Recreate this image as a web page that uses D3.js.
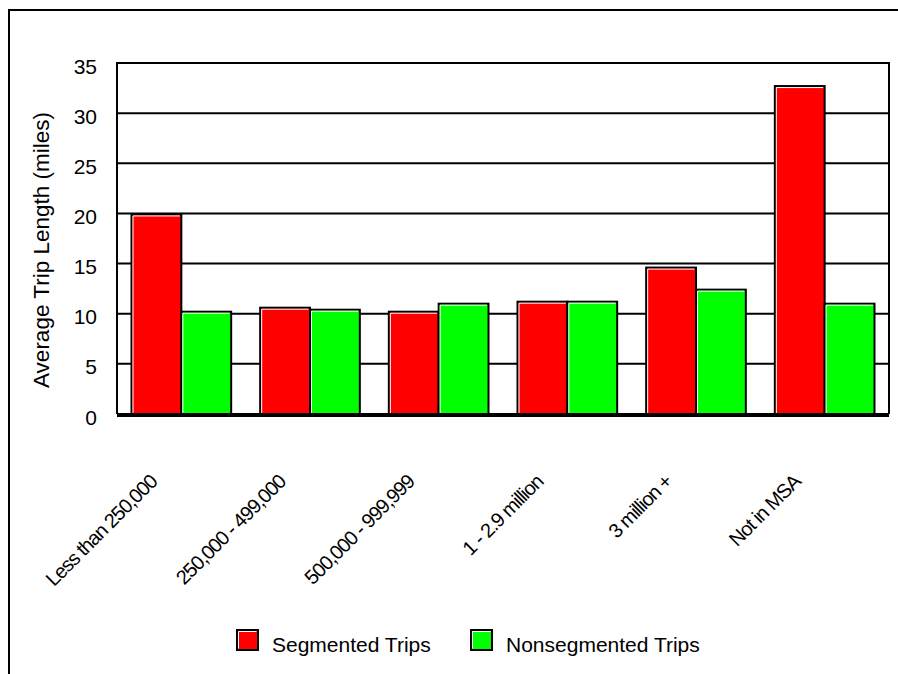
<!DOCTYPE html>
<html>
<head>
<meta charset="utf-8">
<script src="https://cdn.jsdelivr.net/npm/d3@7/dist/d3.min.js"></script>
<style>
  html, body { margin: 0; padding: 0; background: #fff; }
  svg { display: block; }
  text { font-family: "Liberation Sans", Arial, sans-serif; fill: #000; }
</style>
</head>
<body>
<script>
const categories = ["Less than 250,000", "250,000 - 499,000", "500,000 - 999,999", "1 - 2.9 million", "3 million +", "Not in MSA"];
const seriesNames = ["Segmented Trips", "Nonsegmented Trips"];
const segmented = [19.9, 10.6, 10.2, 11.2, 14.6, 32.7];
const nonsegmented = [10.2, 10.4, 11.0, 11.2, 12.4, 11.0];
const yTicks = [0, 5, 10, 15, 20, 25, 30, 35];
const colors = ["#ff0000", "#00ff00"];

const W = 898, H = 674;
const plot = { left: 117, right: 889, top: 63, bottom: 414 };

const svg = d3.select("body").append("svg").attr("width", W).attr("height", H);

// outer frame
svg.append("rect").attr("x", 9).attr("y", 10).attr("width", 1000).attr("height", 1000)
  .attr("fill", "none").attr("stroke", "#000").attr("stroke-width", 2);

const y = d3.scaleLinear().domain([0, 35]).range([plot.bottom, plot.top]);
const x0 = d3.scaleBand().domain(categories).range([plot.left, plot.right]).padding(0);
const x1 = d3.scaleBand().domain(seriesNames).range([14.5, x0.bandwidth() - 14.5]).padding(0);

// gridlines
svg.append("g").selectAll("line").data(yTicks.filter(t => t > 0)).join("line")
  .attr("x1", plot.left).attr("x2", plot.right)
  .attr("y1", d => y(d)).attr("y2", d => y(d))
  .attr("stroke", "#000").attr("stroke-width", 2);

// plot frame left/top/right
svg.append("path")
  .attr("d", `M${plot.left},${plot.bottom} V${plot.top} H${plot.right} V${plot.bottom}`)
  .attr("fill", "none").attr("stroke", "#000").attr("stroke-width", 2);

// y tick labels via axis
const yAxis = svg.append("g").attr("transform", `translate(${plot.left},0)`)
  .call(d3.axisLeft(y).tickValues(yTicks).tickSize(0).tickPadding(20));
yAxis.select(".domain").remove();
yAxis.selectAll("text").attr("font-size", 21).attr("font-family", "Liberation Sans, Arial, sans-serif")
  .attr("dy", "0.48em").attr("fill", "#000");

// bars
const data = categories.map((c, i) => ({ c, vals: [segmented[i], nonsegmented[i]] }));
const groups = svg.append("g").selectAll("g").data(data).join("g")
  .attr("transform", d => `translate(${x0(d.c)},0)`);
groups.selectAll("g.bar").data(d => d.vals.map((v, j) => ({ v, s: seriesNames[j], j })))
  .join("g").attr("class", "bar")
  .each(function (d) {
    const g = d3.select(this);
    const bx = x1(d.s), bw = x1.bandwidth(), by = y(d.v), bh = y(0) - y(d.v);
    g.append("rect").attr("x", bx).attr("y", by).attr("width", bw).attr("height", bh)
      .attr("fill", colors[d.j]).attr("stroke", "#000").attr("stroke-width", 2);
    g.append("path")
      .attr("d", `M${bx + 1.5},${by + bh} V${by + 1.5} H${bx + bw - 1.5}`)
      .attr("fill", "none").attr("stroke", "#fff").attr("stroke-width", 1);
  });

// bottom axis (thick)
svg.append("line").attr("x1", plot.left).attr("x2", plot.right)
  .attr("y1", y(0) + 1).attr("y2", y(0) + 1)
  .attr("stroke", "#000").attr("stroke-width", 4);

// x labels rotated
svg.append("g").selectAll("text").data(categories).join("text")
  .attr("transform", d => `translate(${x0(d) + x0.bandwidth() / 2 - 23},${y(0) + 69}) rotate(-45)`)
  .attr("text-anchor", "end")
  .attr("font-size", 20)
  .attr("letter-spacing", "-1px")
  .text(d => d);

// y axis title
svg.append("text")
  .attr("transform", `translate(48.5,250) rotate(-90)`)
  .attr("text-anchor", "middle").attr("font-size", 22.5)
  .text("Average Trip Length (miles)");

// legend
const legendX = [237, 471];
const leg = svg.append("g").selectAll("g").data(seriesNames).join("g")
  .attr("transform", (d, i) => `translate(${legendX[i]},630)`);
leg.append("rect").attr("width", 21).attr("height", 20)
  .attr("fill", (d, i) => colors[i]).attr("stroke", "#000").attr("stroke-width", 2);
leg.append("path").attr("d", "M1.5,18.5 V1.5 H19.5").attr("fill", "none").attr("stroke", "#fff").attr("stroke-width", 1);
leg.append("text").attr("x", 35).attr("y", 21.5).attr("font-size", 21).text(d => d);
</script>
</body>
</html>
